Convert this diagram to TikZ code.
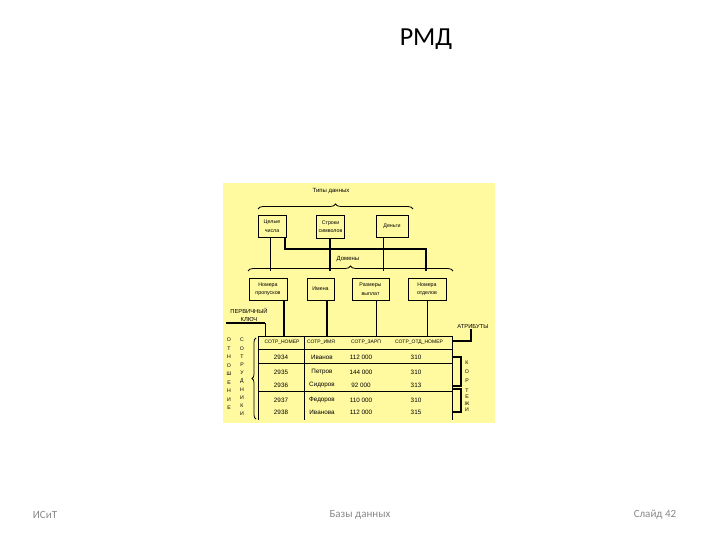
\documentclass[tikz,border=0pt]{standalone}
\usepackage{fontspec}
\setmainfont{Carlito}
\newfontfamily\dfont{Liberation Sans}
\usetikzlibrary{decorations.pathreplacing}
\definecolor{pale}{RGB}{255,250,160}
\definecolor{foot}{RGB}{137,137,137}
\begin{document}
\begin{tikzpicture}[x=1pt,y=-1pt,
  thinl/.style={line width=0.8pt},
  thickl/.style={line width=2pt},
  boxn/.style={draw,line width=0.8pt,inner sep=0pt,align=center,font=\dfont\fontsize{5.3}{8.5}\selectfont},
  small/.style={inner sep=0pt,font=\dfont\fontsize{6}{7}\selectfont},
  cell/.style={inner sep=0pt,font=\dfont\fontsize{6.3}{7}\selectfont},
  hcell/.style={inner sep=0pt,font=\dfont\fontsize{5}{6}\selectfont},
  vert/.style={inner sep=0pt,align=center,font=\dfont\fontsize{5.2}{8.5}\selectfont},
  brc/.style={decorate,line width=0.8pt,decoration={brace,amplitude=5pt}},
  footer/.style={inner sep=0pt,text=foot,font=\fontsize{11}{12}\selectfont}]
\useasboundingbox (0,0) rectangle (720,540);
\fill[white] (0,0) rectangle (720,540);
\fill[pale] (223,183) rectangle (495,423);

% title and footer
\node[inner sep=0pt,font=\fontsize{26}{30}\selectfont] (title) at (426,39) {РМД};
\node[footer] (f1) at (45,515) {ИСиТ};
\node[footer] (f2) at (360,515) {Базы данных};
\node[footer] (f3) at (655,515) {Слайд 42};

% data types
\node[small] (types) at (331,191) {Типы данных};
\draw[brc] (258,209) -- (413,209);
\node[boxn,minimum width=28,minimum height=22] (t1) at (272,226) {Целые\\числа};
\node[boxn,minimum width=28,minimum height=23] (t2) at (330.5,226.5) {Строки\\символов};
\node[boxn,minimum width=32,minimum height=22] (t3) at (392,226) {Деньги};

% domains
\node[small] (domains) at (348,259) {Домены};
\coordinate (dbr) at (0,271);
\draw[brc] (248,271) -- (453,271);

\coordinate (a1) at (270,0);
\coordinate (a2) at (285,0);
\coordinate (a3) at (330,0);
\coordinate (a4) at (383,0);
\coordinate (a5) at (426,0);
\coordinate (bend) at (0,249);
\draw[thinl] (t1.south -| a1) -- (dbr -| a1);
\draw[thickl] (t1.south -| a2) -- (bend -| a2) -- (bend -| a5) -- (dbr -| a5);
\draw[thickl] (t2.south -| a3) -- (dbr -| a3);
\draw[thinl] (t3.south -| a4) -- (dbr -| a4);

\node[boxn,minimum width=38,minimum height=22] (d1) at (268,289) {Номера\\пропусков};
\node[boxn,minimum width=27,minimum height=22] (d2) at (320.5,289) {Имена};
\node[boxn,minimum width=37,minimum height=22] (d3) at (370.5,289) {Размеры\\выплат};
\node[boxn,minimum width=38,minimum height=22] (d4) at (427,289) {Номера\\отделов};

% table frame
\node[draw=none,inner sep=0pt,minimum width=194,minimum height=84,anchor=north west] (tbl) at (258,336) {};
\draw[thinl] (tbl.south west) -- (tbl.north west) -- (tbl.north east) -- (tbl.south east);
\coordinate (h1) at (0,349);
\coordinate (h2) at (0,363.5);
\coordinate (h3) at (0,391.5);
\coordinate (cs) at (304,0);
\draw[thinl] (tbl.west |- h1) -- (tbl.east |- h1);
\draw[thinl] (tbl.west |- h2) -- (tbl.east |- h2);
\draw[thinl] (tbl.west |- h3) -- (tbl.east |- h3);
\draw[thinl] (tbl.north -| cs) -- (tbl.south -| cs);

% domain to table connectors
\coordinate (b1) at (284,0);
\coordinate (b2) at (327,0);
\coordinate (b3) at (376,0);
\coordinate (b4) at (427,0);
\draw[thickl] (d1.south -| b1) -- (tbl.north -| b1);
\draw[thickl] (d2.south -| b2) -- (tbl.north -| b2);
\draw[thinl] (d3.south -| b3) -- (tbl.north -| b3);
\draw[thinl] (d4.south -| b4) -- (tbl.north -| b4);

% header
\node[hcell] (c1) at (282,342.5) {СОТР\_НОМЕР};
\node[hcell] (c2) at (321,342.5) {СОТР\_ИМЯ};
\node[hcell] (c3) at (366,342.5) {СОТР\_ЗАРП};
\node[hcell] (c4) at (419,342.5) {СОТР\_ОТД\_НОМЕР};

% rows
\node[cell] at (281,357) {2934};
\node[cell] at (322,357) {Иванов};
\node[cell] at (361,357) {112 000};
\node[cell] at (416,357) {310};
\node[cell] at (281,372) {2935};
\node[cell] at (322,372) {Петров};
\node[cell] at (361,372) {144 000};
\node[cell] at (416,372) {310};
\node[cell] at (281,385) {2936};
\node[cell] at (322,385) {Сидоров};
\node[cell] at (361,385) {92 000};
\node[cell] at (416,385) {313};
\node[cell] at (281,400) {2937};
\node[cell] at (322,400) {Федоров};
\node[cell] at (361,400) {110 000};
\node[cell] at (416,400) {310};
\node[cell] at (281,412) {2938};
\node[cell] at (322,412) {Иванова};
\node[cell] at (361,412) {112 000};
\node[cell] at (416,412) {315};

% primary key
\node[small,align=center,font=\dfont\fontsize{5.8}{8}\selectfont] (pk) at (249,315) {ПЕРВИЧНЫЙ\\КЛЮЧ};
\coordinate (pkl) at (226,323);
\coordinate (pkc) at (265,0);
\draw[thickl] (pkl) -- (pkl -| pkc);
\draw[thinl] (pkl -| pkc) -- (tbl.north -| pkc);

% attributes
\node[small,font=\dfont\fontsize{5.8}{7}\selectfont] (attr) at (473,327) {АТРИБУТЫ};
\coordinate (at) at (471,341);
\draw[thickl] (tbl.east |- at) -- (at) -- (attr.south -| at);

% left labels
\draw[brc,decoration={brace,amplitude=4pt}] (256,419) -- (256,338);
\node[vert] (rel) at (229,374) {О\\Т\\Н\\О\\Ш\\Е\\Н\\И\\Е};
\node[vert,font=\dfont\fontsize{5.2}{8.2}\selectfont] (emp) at (242,377) {С\\О\\Т\\Р\\У\\Д\\Н\\И\\К\\И};

% right brackets
\draw[line width=1.2pt] (tbl.east |- 0,357) -- (461,357) -- (461,386) -- (tbl.east |- 0,386);
\draw[line width=1.2pt] (tbl.east |- 0,389) -- (461,389) -- (461,412) -- (tbl.east |- 0,412);
\node[vert,font=\dfont\fontsize{5.2}{9}\selectfont] (k1) at (467,372) {К\\О\\Р};
\node[vert,font=\dfont\fontsize{5.2}{6.5}\selectfont] (k2) at (467,400) {Т\\Е\\Ж\\И};
\end{tikzpicture}
\end{document}
